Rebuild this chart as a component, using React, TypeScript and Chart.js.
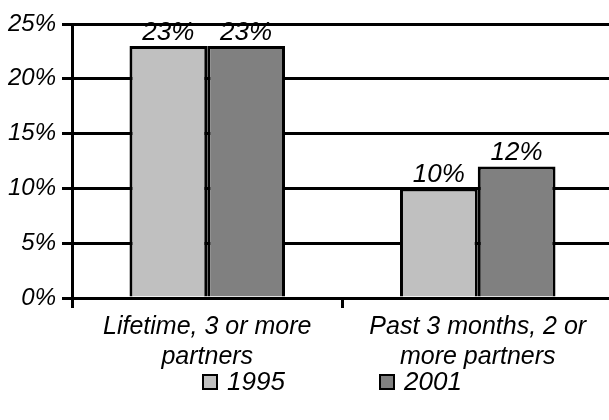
import { useEffect, useRef } from "react";
import { Chart, registerables } from "chart.js";

Chart.register(...registerables);

// Chart data
const categories: string[][] = [
  ["Lifetime, 3 or more", "partners"],
  ["Past 3 months, 2 or", "more partners"],
];
const seriesNames = ["1995", "2001"];
const values1995 = [23, 10];
const values2001 = [23, 12];
const yMin = 0;
const yMax = 25;
const yStep = 5;

const seriesColors = ["#c0c0c0", "#808080"];
const FONT = "'Liberation Sans', Arial, Helvetica, sans-serif";
const LINE = 3;
// The plot runs slightly past the visible right edge
const CANVAS_W = 613;
const VIEW_W = 609;
const VIEW_H = 420;

// Value labels above each bar
const valueLabels = {
  id: "valueLabels",
  afterDatasetsDraw(chart: any) {
    const { ctx } = chart;
    ctx.save();
    ctx.font = `italic 26px ${FONT}`;
    ctx.fillStyle = "#000";
    ctx.textAlign = "center";
    ctx.textBaseline = "alphabetic";
    chart.data.datasets.forEach((ds: any, i: number) => {
      const meta = chart.getDatasetMeta(i);
      meta.data.forEach((el: any, j: number) => {
        ctx.fillText(`${ds.data[j]}%`, el.x, el.y - 6);
      });
    });
    ctx.restore();
  },
};

// Legend row below the axis
const bottomLegend = {
  id: "bottomLegend",
  afterDraw(chart: any) {
    const { ctx } = chart;
    const y = 382;
    const startX = 203;
    const itemGap = 177;
    const box = 14;
    ctx.save();
    ctx.font = `italic 26px ${FONT}`;
    ctx.textBaseline = "middle";
    ctx.textAlign = "left";
    chart.data.datasets.forEach((ds: any, i: number) => {
      const x = startX + i * itemGap;
      ctx.fillStyle = ds.backgroundColor;
      ctx.fillRect(x, y - box / 2, box, box);
      ctx.lineWidth = 2;
      ctx.strokeStyle = "#000";
      ctx.strokeRect(x, y - box / 2, box, box);
      ctx.fillStyle = "#000";
      ctx.fillText(ds.label, x + box + 10, y + 1);
    });
    ctx.restore();
  },
};

export default function App() {
  const ref = useRef<HTMLCanvasElement | null>(null);

  useEffect(() => {
    if (!ref.current) return;
    const chart = new Chart(ref.current, {
      type: "bar",
      data: {
        labels: categories,
        datasets: [
          {
            label: seriesNames[0],
            data: values1995,
            backgroundColor: seriesColors[0],
            borderColor: "#000",
            borderWidth: LINE,
          },
          {
            label: seriesNames[1],
            data: values2001,
            backgroundColor: seriesColors[1],
            borderColor: "#000",
            borderWidth: LINE,
          },
        ],
      },
      options: {
        animation: false,
        responsive: false,
        devicePixelRatio: 1,
        layout: { padding: { top: 24, left: 0, right: 0, bottom: 0 } },
        datasets: { bar: { categoryPercentage: 0.575, barPercentage: 1 } },
        plugins: {
          legend: { display: false },
          tooltip: { enabled: false },
        },
        scales: {
          x: {
            offset: true,
            grid: {
              offset: true,
              drawOnChartArea: false,
              drawTicks: true,
              tickLength: 10,
              color: "#000",
              lineWidth: LINE,
            },
            border: { display: true, color: "#000", width: LINE },
            ticks: {
              color: "#000",
              font: { family: FONT, size: 25, style: "italic", lineHeight: 1.2 },
              padding: 4,
              maxRotation: 0,
              autoSkip: false,
            },
            afterFit(scale: any) {
              scale.height = 122;
            },
          },
          y: {
            min: yMin,
            max: yMax,
            ticks: {
              stepSize: yStep,
              color: "#000",
              font: { family: FONT, size: 24, style: "italic" },
              padding: 6,
              callback: (v: any) => `${v}%`,
            },
            grid: {
              color: "#000",
              lineWidth: LINE,
              tickLength: 10,
            },
            border: { display: true, color: "#000", width: LINE },
            afterFit(scale: any) {
              scale.width = 72;
            },
          },
        },
      },
      plugins: [valueLabels, bottomLegend],
    });
    return () => chart.destroy();
  }, []);

  return (
    <div
      style={{
        position: "fixed",
        left: 0,
        top: 0,
        width: VIEW_W,
        height: VIEW_H,
        overflow: "hidden",
        background: "#fff",
      }}
    >
      <canvas ref={ref} width={CANVAS_W} height={VIEW_H} style={{ display: "block" }} />
    </div>
  );
}
